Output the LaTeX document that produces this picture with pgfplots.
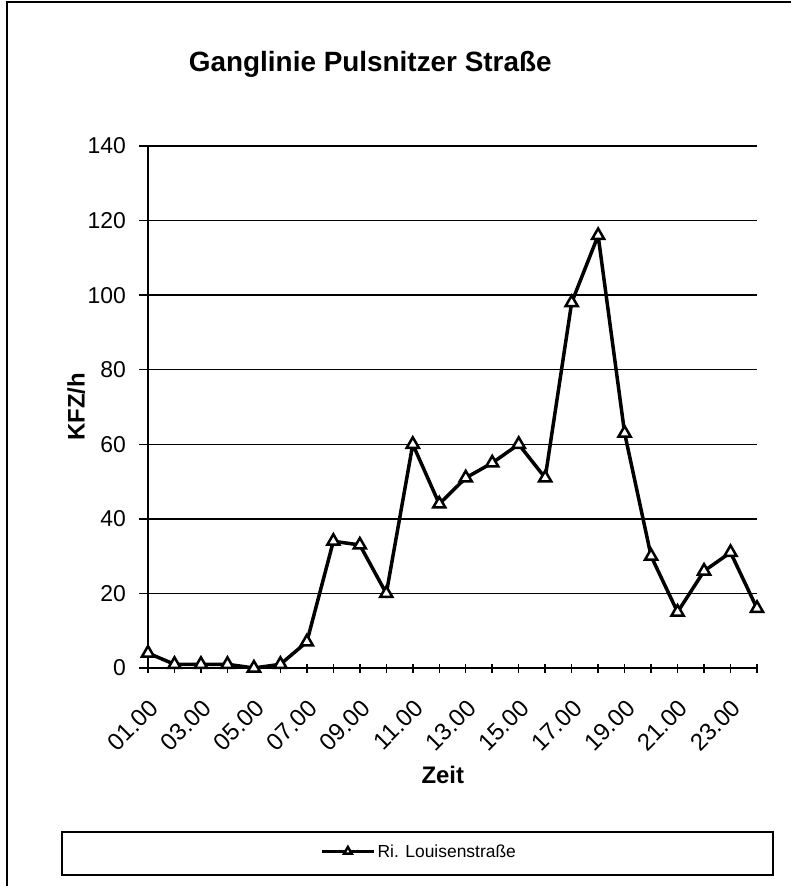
\documentclass[border=0pt]{standalone}
\usepackage{pgfplots}
\pgfplotsset{compat=1.18}
\usepackage{fontspec}
\setmainfont{Liberation Sans}
\begin{document}
\begin{tikzpicture}
\useasboundingbox (0bp,0bp) rectangle (791bp,-886bp);
\draw[line width=1.5bp] (7bp,-2bp) rectangle (820bp,-920bp);
\draw[line width=1.5bp] (62bp,-832bp) rectangle (773bp,-875bp);
\begin{axis}[
  at={(148bp,-668bp)}, anchor=south west,
  scale only axis, width=609bp, height=522bp,
  xmin=1, xmax=24, ymin=0, ymax=140,
  axis lines=left, axis line style={-, line width=1.5bp},
  xtick={1,...,24},
  xticklabels={01.00,,03.00,,05.00,,07.00,,09.00,,11.00,,13.00,,15.00,,17.00,,19.00,,21.00,,23.00,},
  ytick={0,20,...,140},
  x tick style={line width=1.5bp, black}, y tick style={line width=1.5bp, black},
  xtick align=center, ytick align=outside,
  major tick length=9bp,
  ymajorgrids, grid style={line width=1.5bp, black},
  tick label style={font=\fontsize{23}{25}\selectfont},
  /pgf/number format/assume math mode=true,
  xticklabel style={font=\fontsize{24}{26}\selectfont, rotate=45, anchor=north east, inner sep=1bp},
  xticklabel shift=24bp,
  yticklabel style={inner sep=1bp},
  yticklabel shift=12bp,
  title={\fontsize{28}{30}\selectfont\bfseries Ganglinie Pulsnitzer Straße},
  title style={at={(axis description cs:0.365,1.145)}, anchor=center},
  ylabel={\fontsize{24}{26}\selectfont\bfseries KFZ/h},
  ylabel style={at={(axis description cs:-0.118,0.5)}, anchor=center, rotate=0},
  xlabel={\fontsize{24}{26}\selectfont\bfseries Zeit},
  xlabel style={at={(axis description cs:0.484,-0.205)}, anchor=center},
  legend style={draw=none, fill=none, at={(axis description cs:0.445,-0.3515)}, anchor=center,
    font=\fontsize{17.5}{20}\selectfont, inner sep=0pt},
  legend cell align=left,
  legend image code/.code={\draw[mark repeat=2, mark phase=2, line width=3.5bp, mark size=4.5bp] plot coordinates {(0bp,0bp) (26bp,0bp) (52bp,0bp)};},
  clip=false,
]
\addplot[black, line width=3.5bp, mark=triangle*, mark options={fill=white, line width=2.5bp, solid}, mark size=7bp]
  coordinates {
  (1,4) (2,1) (3,1) (4,1) (5,0) (6,1) (7,7) (8,34) (9,33) (10,20)
  (11,60) (12,44) (13,51) (14,55) (15,60) (16,51) (17,98) (18,116)
  (19,63) (20,30) (21,15) (22,26) (23,31) (24,16)};
\addlegendentry{Ri. Louisenstraße}
\end{axis}
\end{tikzpicture}
\end{document}
